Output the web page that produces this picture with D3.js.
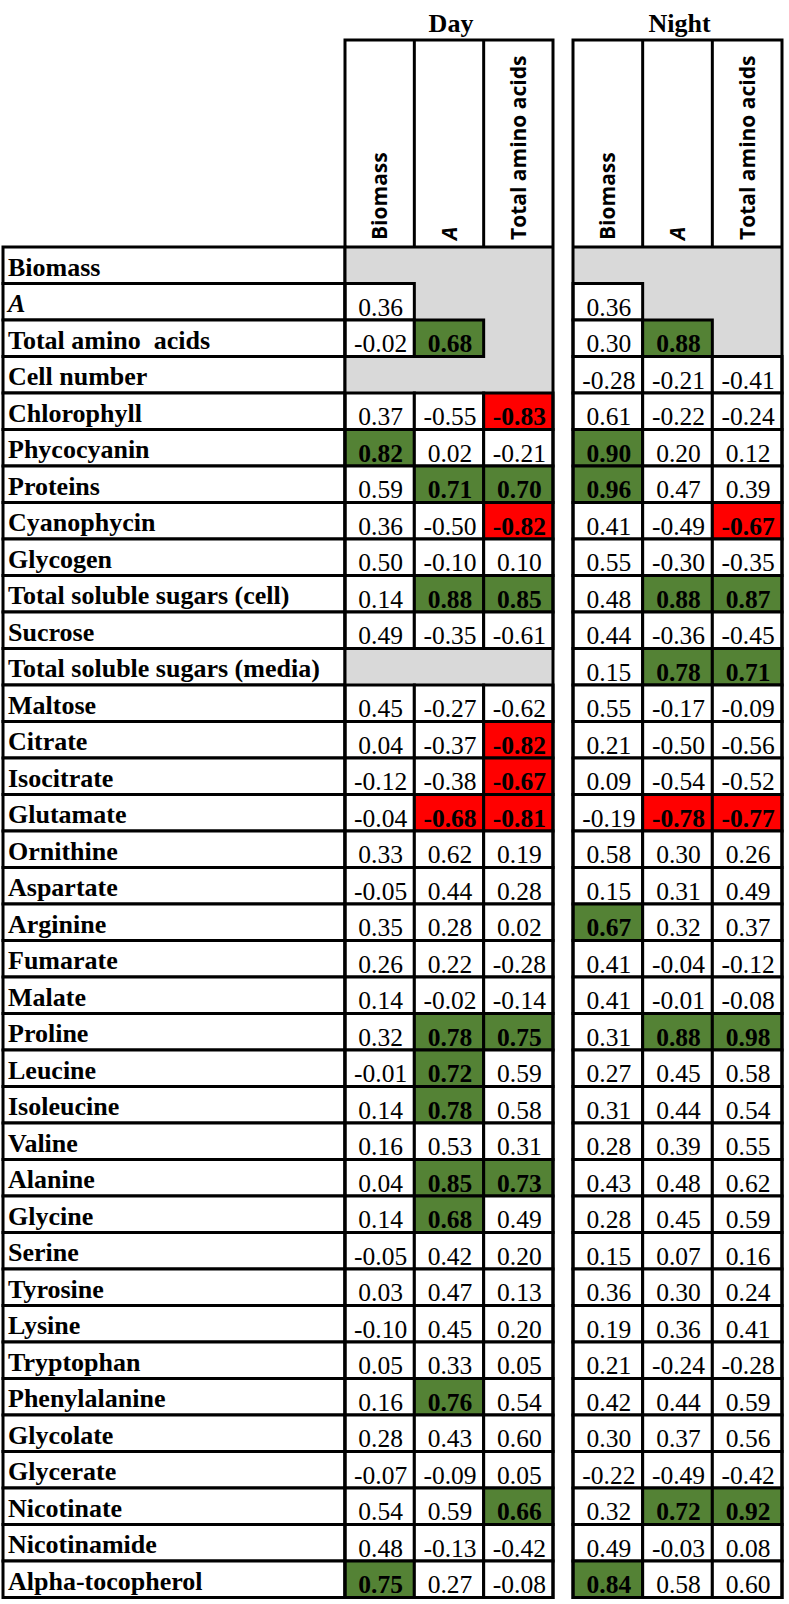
<!DOCTYPE html>
<html>
<head>
<meta charset="utf-8">
<script src="https://cdn.jsdelivr.net/npm/d3@7"></script>
<style>
  html, body { margin: 0; padding: 0; background: #fff; }
  svg { display: block; }
</style>
</head>
<body>
<svg id="chart" width="789" height="1604"></svg>
<script>
// ---------------- data ----------------
const rowLabels = [
  "Biomass", "A", "Total amino  acids", "Cell number", "Chlorophyll", "Phycocyanin",
  "Proteins", "Cyanophycin", "Glycogen", "Total soluble sugars (cell)", "Sucrose",
  "Total soluble sugars (media)", "Maltose", "Citrate", "Isocitrate", "Glutamate",
  "Ornithine", "Aspartate", "Arginine", "Fumarate", "Malate", "Proline", "Leucine",
  "Isoleucine", "Valine", "Alanine", "Glycine", "Serine", "Tyrosine", "Lysine",
  "Tryptophan", "Phenylalanine", "Glycolate", "Glycerate", "Nicotinate",
  "Nicotinamide", "Alpha-tocopherol"
];
const italicRows = ["A"];
const columnLabels = ["Biomass", "A", "Total amino acids"];
const italicColumns = ["A"];
const groupLabels = ["Day", "Night"];

// null = grey (not applicable)
const dayValues = [
  [null, null, null],
  [0.36, null, null],
  [-0.02, 0.68, null],
  [null, null, null],
  [0.37, -0.55, -0.83],
  [0.82, 0.02, -0.21],
  [0.59, 0.71, 0.70],
  [0.36, -0.50, -0.82],
  [0.50, -0.10, 0.10],
  [0.14, 0.88, 0.85],
  [0.49, -0.35, -0.61],
  [null, null, null],
  [0.45, -0.27, -0.62],
  [0.04, -0.37, -0.82],
  [-0.12, -0.38, -0.67],
  [-0.04, -0.68, -0.81],
  [0.33, 0.62, 0.19],
  [-0.05, 0.44, 0.28],
  [0.35, 0.28, 0.02],
  [0.26, 0.22, -0.28],
  [0.14, -0.02, -0.14],
  [0.32, 0.78, 0.75],
  [-0.01, 0.72, 0.59],
  [0.14, 0.78, 0.58],
  [0.16, 0.53, 0.31],
  [0.04, 0.85, 0.73],
  [0.14, 0.68, 0.49],
  [-0.05, 0.42, 0.20],
  [0.03, 0.47, 0.13],
  [-0.10, 0.45, 0.20],
  [0.05, 0.33, 0.05],
  [0.16, 0.76, 0.54],
  [0.28, 0.43, 0.60],
  [-0.07, -0.09, 0.05],
  [0.54, 0.59, 0.66],
  [0.48, -0.13, -0.42],
  [0.75, 0.27, -0.08]
];
const nightValues = [
  [null, null, null],
  [0.36, null, null],
  [0.30, 0.88, null],
  [-0.28, -0.21, -0.41],
  [0.61, -0.22, -0.24],
  [0.90, 0.20, 0.12],
  [0.96, 0.47, 0.39],
  [0.41, -0.49, -0.67],
  [0.55, -0.30, -0.35],
  [0.48, 0.88, 0.87],
  [0.44, -0.36, -0.45],
  [0.15, 0.78, 0.71],
  [0.55, -0.17, -0.09],
  [0.21, -0.50, -0.56],
  [0.09, -0.54, -0.52],
  [-0.19, -0.78, -0.77],
  [0.58, 0.30, 0.26],
  [0.15, 0.31, 0.49],
  [0.67, 0.32, 0.37],
  [0.41, -0.04, -0.12],
  [0.41, -0.01, -0.08],
  [0.31, 0.88, 0.98],
  [0.27, 0.45, 0.58],
  [0.31, 0.44, 0.54],
  [0.28, 0.39, 0.55],
  [0.43, 0.48, 0.62],
  [0.28, 0.45, 0.59],
  [0.15, 0.07, 0.16],
  [0.36, 0.30, 0.24],
  [0.19, 0.36, 0.41],
  [0.21, -0.24, -0.28],
  [0.42, 0.44, 0.59],
  [0.30, 0.37, 0.56],
  [-0.22, -0.49, -0.42],
  [0.32, 0.72, 0.92],
  [0.49, -0.03, 0.08],
  [0.84, 0.58, 0.60]
];
const significanceThreshold = 0.66;

// ---------------- layout ----------------
const svg = d3.select("#chart");
const serif = "'Liberation Serif', 'Times New Roman', serif";
const sans = "'Open Sans', 'Noto Sans', sans-serif";
const SW = 3;
const headerTop = 40;
const tableTop = 247;
const tableBottom = 1597.5;
const labelLeft = 3;

const yRow = d3.scaleBand().domain(d3.range(rowLabels.length)).range([tableTop, tableBottom]).padding(0);
const groupRanges = [[345, 553], [573, 782]];
const groupData = [dayValues, nightValues];
const colorFor = v => v >= significanceThreshold ? "#548235" : (v <= -significanceThreshold ? "#ff0000" : "#ffffff");
const fmt = v => v.toFixed(2);

// label column
const labelG = svg.append("g");
rowLabels.forEach((lab, i) => {
  labelG.append("rect")
    .attr("x", labelLeft).attr("y", yRow(i))
    .attr("width", groupRanges[0][0] - labelLeft).attr("height", yRow.bandwidth())
    .attr("fill", "#fff").attr("stroke", "#000").attr("stroke-width", SW);
  labelG.append("text")
    .attr("x", labelLeft + 5).attr("y", yRow(i) + 28.5)
    .attr("font-family", serif).attr("font-size", 26).attr("font-weight", "bold")
    .attr("font-style", italicRows.includes(lab) ? "italic" : "normal")
    .attr("fill", "#000")
    .style("white-space", "pre")
    .text(lab);
});

groupData.forEach((values, g) => {
  const x = d3.scaleBand().domain(d3.range(columnLabels.length)).range(groupRanges[g]).padding(0);
  const G = svg.append("g");
  const [x0, x1] = groupRanges[g];

  // grey background for the whole block
  G.append("rect").attr("x", x0).attr("y", tableTop).attr("width", x1 - x0)
    .attr("height", tableBottom - tableTop).attr("fill", "#d9d9d9");

  // cells
  values.forEach((row, i) => {
    row.forEach((v, j) => {
      if (v === null) return;
      G.append("rect")
        .attr("x", x(j)).attr("y", yRow(i))
        .attr("width", x.bandwidth()).attr("height", yRow.bandwidth())
        .attr("fill", colorFor(v)).attr("stroke", "#000").attr("stroke-width", SW);
    });
  });
  values.forEach((row, i) => {
    row.forEach((v, j) => {
      if (v === null) return;
      const sig = Math.abs(v) >= significanceThreshold;
      G.append("text")
        .attr("x", x(j) + x.bandwidth() / 2 + 1).attr("y", yRow(i) + 32)
        .attr("text-anchor", "middle")
        .attr("font-family", serif).attr("font-size", 25.5)
        .attr("font-weight", sig ? "bold" : "normal")
        .attr("fill", "#000")
        .text(fmt(v));
    });
  });

  // header box
  G.append("rect").attr("x", x0).attr("y", headerTop).attr("width", x1 - x0)
    .attr("height", tableBottom - headerTop).attr("fill", "none")
    .attr("stroke", "#000").attr("stroke-width", SW);
  G.append("line").attr("x1", x0).attr("x2", x1).attr("y1", tableTop).attr("y2", tableTop)
    .attr("stroke", "#000").attr("stroke-width", SW);
  columnLabels.forEach((c, j) => {
    if (j > 0) {
      G.append("line").attr("x1", x(j)).attr("x2", x(j)).attr("y1", headerTop).attr("y2", tableTop)
        .attr("stroke", "#000").attr("stroke-width", SW);
    }
    const cx = x(j) + x.bandwidth() / 2 + 7.5;
    G.append("text")
      .attr("transform", `translate(${cx},${tableTop - 7}) rotate(-90)`)
      .attr("font-family", sans).attr("font-size", 21).attr("font-weight", "bold")
      .attr("font-style", italicColumns.includes(c) ? "italic" : "normal")
      .attr("fill", "#000")
      .text(c);
  });

  // group title
  G.append("text")
    .attr("x", (x0 + x1) / 2 + 2).attr("y", 32)
    .attr("text-anchor", "middle")
    .attr("font-family", serif).attr("font-size", 26).attr("font-weight", "bold")
    .attr("fill", "#000")
    .text(groupLabels[g]);
});
</script>
</body>
</html>
